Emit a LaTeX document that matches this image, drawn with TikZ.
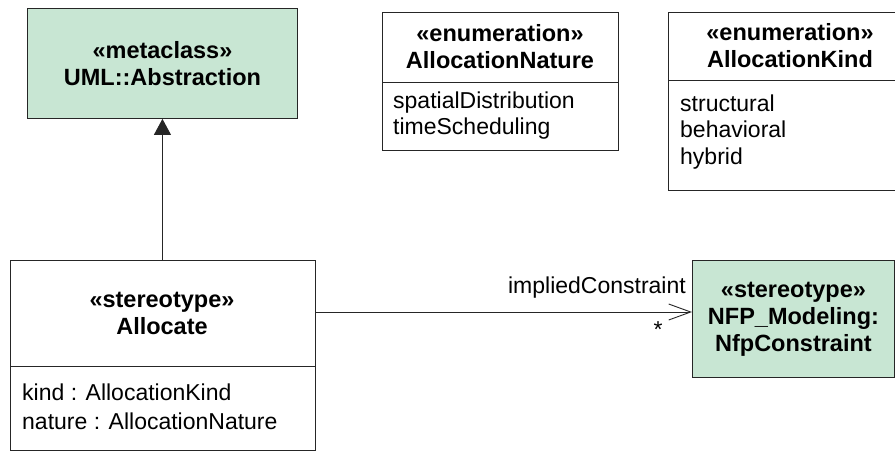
\documentclass[tikz,border=0pt]{standalone}
\usepackage{fontspec}
\setmainfont{Liberation Sans}
\usetikzlibrary{arrows.meta,positioning}
\definecolor{umlgreen}{RGB}{200,230,211}

\begin{document}
\begin{tikzpicture}[x=1pt,y=-1pt,
    class/.style={draw=black!85,line width=0.9pt,anchor=north west,inner sep=0pt},
    head/.style={font=\bfseries\fontsize{23.5}{27}\selectfont,align=center},
    attr/.style={font=\fontsize{23}{27}\selectfont,anchor=base west,inner sep=0pt},
    sep/.style={draw=black!85,line width=0.9pt}]

      \useasboundingbox (0,0) rectangle (895,452);

      % classes
      \node[class,fill=umlgreen,minimum width=270pt,minimum height=110pt] (meta) at (27,8) {};
      \node[head] (meta_h) at (meta.center) {«metaclass»\\UML::Abstraction};

      \node[class,minimum width=236pt,minimum height=138pt] (nature) at (382,12) {};
      \node[head] (nature_h) at (500,47) {«enumeration»\\AllocationNature};
      \draw[sep] (nature.west |- 0,82) -- (nature.east |- 0,82);
      \node[attr] (n_1) at (393,109) {spatialDistribution};
      \node[attr] (n_2) at (393,135) {timeScheduling};

      \node[class,minimum width=244pt,minimum height=178pt] (kind) at (668,12) {};
      \node[head] (kind_h) at (790,46) {«enumeration»\\AllocationKind};
      \draw[sep] (kind.west |- 0,80) -- (kind.east |- 0,80);
      \node[attr] (k_1) at (680,112) {structural};
      \node[attr] (k_2) at (680,138) {behavioral};
      \node[attr] (k_3) at (680,164) {hybrid};

      \node[class,minimum width=305pt,minimum height=190pt] (alloc) at (10,260) {};
      \node[head] (alloc_h) at (162,313) {«stereotype»\\Allocate};
      \draw[sep] (alloc.west |- 0,366) -- (alloc.east |- 0,366);
      \node[attr] (a_1) at (22,400) {kind : AllocationKind};
      \node[attr] (a_2) at (22,429) {nature : AllocationNature};

      \node[class,fill=umlgreen,minimum width=202pt,minimum height=117pt] (nfp) at (692,260) {};
      \node[head] (nfp_h) at (nfp.center) {«stereotype»\\NFP\_Modeling:\\NfpConstraint};

      % relations
      \draw[sep,-{Triangle[length=16pt,width=17pt]}] (alloc.north -| meta.south) -- (meta.south);
      \draw[sep,-{Straight Barb[length=22pt,width=16pt]}] (alloc.east |- 0,312) -- (nfp.west |- 0,312);
      \node[attr,anchor=base east] (role) at (686,293) {impliedConstraint};
      \node[attr,anchor=base] (mult) at (658,337) {*};

\end{tikzpicture}
\end{document}
